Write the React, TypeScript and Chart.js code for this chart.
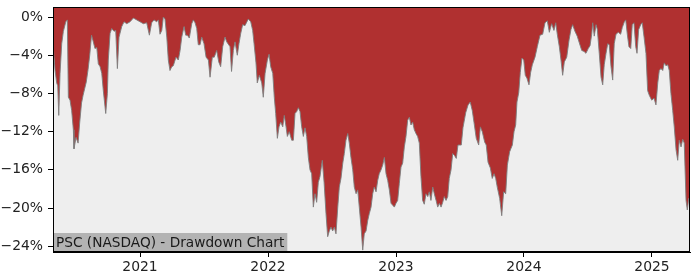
import React, { useEffect, useRef } from "react";
import { Chart, registerables } from "chart.js";

Chart.register(...registerables);

// Dates as fractional years
const dates: number[] = [
  2020.324, 2020.336, 2020.349, 2020.357, 2020.365, 2020.375, 2020.388, 2020.401, 2020.420, 2020.432,
  2020.440, 2020.453, 2020.466, 2020.479, 2020.484, 2020.500, 2020.516, 2020.529, 2020.543, 2020.555,
  2020.580, 2020.594, 2020.607, 2020.621, 2020.633, 2020.648, 2020.662, 2020.674, 2020.688, 2020.701,
  2020.713, 2020.732, 2020.745, 2020.752, 2020.766, 2020.779, 2020.797, 2020.810, 2020.823, 2020.836,
  2020.857, 2020.875, 2020.896, 2020.922, 2020.948, 2020.974, 2021.000, 2021.026, 2021.052, 2021.073,
  2021.091, 2021.109, 2021.130, 2021.143, 2021.156, 2021.170, 2021.182, 2021.195, 2021.209, 2021.221,
  2021.234, 2021.248, 2021.260, 2021.281, 2021.299, 2021.313, 2021.326, 2021.344, 2021.357, 2021.370,
  2021.385, 2021.404, 2021.416, 2021.430, 2021.443, 2021.455, 2021.469, 2021.482, 2021.500, 2021.516,
  2021.534, 2021.547, 2021.565, 2021.580, 2021.599, 2021.615, 2021.630, 2021.646, 2021.664, 2021.677,
  2021.703, 2021.715, 2021.729, 2021.742, 2021.760, 2021.773, 2021.787, 2021.802, 2021.820, 2021.846,
  2021.865, 2021.880, 2021.891, 2021.906, 2021.916, 2021.932, 2021.951, 2021.963, 2021.977, 2021.995,
  2022.008, 2022.021, 2022.037, 2022.049, 2022.060, 2022.073, 2022.086, 2022.099, 2022.115, 2022.127,
  2022.141, 2022.151, 2022.166, 2022.185, 2022.198, 2022.211, 2022.224, 2022.237, 2022.250, 2022.263,
  2022.276, 2022.289, 2022.302, 2022.315, 2022.328, 2022.341, 2022.354, 2022.367, 2022.380, 2022.393,
  2022.406, 2022.424, 2022.438, 2022.453, 2022.466, 2022.479, 2022.492, 2022.505, 2022.518, 2022.531,
  2022.545, 2022.557, 2022.570, 2022.584, 2022.596, 2022.609, 2022.623, 2022.635, 2022.648, 2022.662,
  2022.674, 2022.688, 2022.701, 2022.713, 2022.727, 2022.740, 2022.752, 2022.766, 2022.779, 2022.791,
  2022.805, 2022.818, 2022.830, 2022.844, 2022.857, 2022.869, 2022.883, 2022.896, 2022.909, 2022.922,
  2022.935, 2022.948, 2022.961, 2022.974, 2022.987, 2023.000, 2023.013, 2023.026, 2023.039, 2023.052,
  2023.065, 2023.078, 2023.091, 2023.104, 2023.117, 2023.130, 2023.143, 2023.156, 2023.169, 2023.182,
  2023.195, 2023.208, 2023.221, 2023.234, 2023.248, 2023.260, 2023.273, 2023.287, 2023.299, 2023.313,
  2023.326, 2023.339, 2023.352, 2023.365, 2023.377, 2023.391, 2023.404, 2023.416, 2023.430, 2023.443,
  2023.457, 2023.471, 2023.484, 2023.510, 2023.523, 2023.545, 2023.563, 2023.580, 2023.596, 2023.609,
  2023.627, 2023.646, 2023.659, 2023.674, 2023.693, 2023.705, 2023.719, 2023.737, 2023.752, 2023.766,
  2023.779, 2023.791, 2023.810, 2023.826, 2023.841, 2023.857, 2023.870, 2023.888, 2023.909, 2023.922,
  2023.935, 2023.945, 2023.959, 2023.971, 2023.984, 2023.998, 2024.010, 2024.023, 2024.039, 2024.052,
  2024.065, 2024.086, 2024.104, 2024.125, 2024.146, 2024.164, 2024.182, 2024.198, 2024.216, 2024.234,
  2024.248, 2024.260, 2024.276, 2024.289, 2024.302, 2024.315, 2024.334, 2024.352, 2024.367, 2024.380,
  2024.398, 2024.416, 2024.432, 2024.451, 2024.469, 2024.484, 2024.502, 2024.516, 2024.529, 2024.537,
  2024.549, 2024.563, 2024.573, 2024.588, 2024.602, 2024.615, 2024.627, 2024.641, 2024.654, 2024.666,
  2024.680, 2024.693, 2024.705, 2024.719, 2024.737, 2024.755, 2024.768, 2024.784, 2024.795, 2024.807,
  2024.820, 2024.834, 2024.846, 2024.859, 2024.873, 2024.883, 2024.896, 2024.912, 2024.924, 2024.938,
  2024.953, 2024.966, 2024.979, 2024.998, 2025.016, 2025.031, 2025.045, 2025.057, 2025.070, 2025.084,
  2025.096, 2025.109, 2025.123, 2025.135, 2025.148, 2025.162, 2025.174, 2025.188, 2025.201, 2025.213,
  2025.227, 2025.240, 2025.252, 2025.266, 2025.276, 2025.287, 2025.297,
];

// Drawdown in percent
const drawdown: number[] = [
  -3.5, -5.6, -6.9, -7.2, -10.3, -5.9, -2.8, -1.5, -0.5, -0.3,
  -8.4, -8.7, -9.8, -11.8, -13.8, -12.6, -13.2, -11.0, -9.0, -8.2,
  -6.8, -5.5, -4.0, -1.9, -2.5, -3.3, -3.2, -4.9, -5.2, -5.9,
  -7.7, -10.1, -8.0, -4.5, -1.7, -1.2, -1.5, -1.4, -5.4, -2.1,
  -1.0, -0.5, -0.7, -0.5, -0.1, -0.3, -0.5, -0.7, -0.6, -1.9,
  -0.6, -0.3, -0.5, -0.3, -1.8, -1.4, 0.0, -0.2, -2.1, -4.5,
  -5.6, -5.2, -5.1, -4.2, -4.5, -3.5, -2.1, -1.0, -1.9, -1.9,
  -2.2, -0.7, -0.3, -0.6, -1.2, -2.9, -2.9, -2.1, -2.8, -4.2,
  -4.5, -6.3, -4.2, -4.2, -3.5, -4.7, -5.2, -3.1, -2.1, -2.6,
  -3.1, -5.7, -3.5, -2.6, -4.0, -2.8, -1.7, -0.8, -0.9, -0.2,
  -0.5, -1.4, -2.8, -4.8, -6.9, -6.1, -6.9, -8.4, -5.9, -4.5,
  -3.9, -5.2, -5.9, -8.4, -10.1, -12.7, -11.5, -11.0, -11.5, -10.3,
  -11.5, -12.5, -12.0, -12.9, -12.9, -10.1, -9.9, -9.5, -9.9, -11.5,
  -12.5, -11.6, -12.5, -14.7, -16.0, -16.4, -19.9, -18.5, -19.4, -17.3,
  -16.7, -15.0, -17.3, -20.6, -23.0, -22.4, -22.0, -22.4, -22.0, -22.7,
  -19.9, -17.8, -16.9, -15.3, -14.3, -12.9, -12.2, -13.2, -14.7, -16.0,
  -17.8, -18.5, -18.1, -19.9, -22.0, -24.4, -22.7, -22.4, -21.3, -20.6,
  -19.9, -18.5, -17.8, -18.3, -17.1, -16.4, -16.0, -15.5, -14.7, -16.4,
  -17.1, -18.1, -19.5, -19.7, -19.9, -19.5, -19.2, -17.4, -15.7, -15.3,
  -13.6, -12.5, -10.8, -10.5, -11.3, -11.0, -11.8, -12.2, -12.5, -13.2,
  -16.7, -19.2, -19.6, -18.5, -18.8, -18.3, -19.2, -17.8, -18.5, -19.2,
  -19.9, -19.5, -19.9, -19.4, -18.8, -19.2, -18.8, -16.9, -16.0, -14.3,
  -14.5, -14.8, -13.4, -13.4, -11.6, -10.0, -9.2, -8.9, -9.8, -11.0,
  -12.7, -13.4, -11.5, -12.0, -13.1, -13.4, -15.2, -15.8, -16.9, -16.4,
  -16.9, -17.8, -19.0, -20.8, -18.3, -18.5, -15.5, -14.1, -13.4, -12.0,
  -11.3, -8.9, -7.9, -5.8, -4.3, -4.5, -6.1, -6.4, -7.1, -5.8,
  -5.0, -4.2, -3.1, -1.9, -1.8, -0.6, -0.4, -1.6, -0.7, -1.4,
  -0.6, -1.8, -3.1, -4.5, -6.1, -4.7, -4.2, -2.4, -1.3, -0.8,
  -1.5, -2.0, -2.7, -3.5, -3.6, -3.8, -3.3, -3.0, -1.8, -0.6,
  -2.0, -0.8, -1.3, -3.8, -6.3, -7.1, -5.0, -3.8, -2.8, -2.9,
  -5.2, -6.6, -2.8, -1.8, -1.6, -1.8, -1.1, -0.5, -0.3, -1.8,
  -3.1, -3.3, -0.8, -0.6, -3.1, -3.8, -1.3, -0.8, -0.6, -2.1,
  -3.8, -7.7, -8.2, -8.7, -8.5, -9.2, -6.9, -5.6, -5.4, -5.6,
  -4.8, -5.1, -5.0, -5.6, -8.0, -9.8, -11.5, -13.9, -15.0, -12.9,
  -13.6, -12.8, -13.2, -19.2, -20.2, -19.0, -18.9,
];

const xTicks: number[] = [2021, 2022, 2023, 2024, 2025];
const yTicks: number[] = [-24, -20, -16, -12, -8, -4, 0];
const labelText = "PSC (NASDAQ) - Drawdown Chart";

const FONT = "DejaVu Sans";

export default function App() {
  const ref = useRef<HTMLCanvasElement | null>(null);

  useEffect(() => {
    const canvas = ref.current;
    if (!canvas) return;

    const bgPlugin = {
      id: "bgPlugin",
      beforeDatasetsDraw(chart: any) {
        const { ctx, chartArea } = chart;
        ctx.save();
        ctx.fillStyle = "#eeeeee";
        ctx.fillRect(chartArea.left, chartArea.top, chartArea.right - chartArea.left, chartArea.bottom - chartArea.top);
        ctx.restore();
      },
      afterDraw(chart: any) {
        const { ctx, chartArea } = chart;
        ctx.save();
        ctx.font = `13.7px "${FONT}"`;
        const w = ctx.measureText(labelText).width;
        const h = 19;
        ctx.fillStyle = "#b3b3b3";
        ctx.fillRect(chartArea.left, chartArea.bottom - h, w + 6, h);
        ctx.fillStyle = "#1a1a1a";
        ctx.textBaseline = "middle";
        ctx.fillText(labelText, chartArea.left + 3, chartArea.bottom - h / 2 + 0.5);
        ctx.strokeStyle = "#000";
        ctx.lineWidth = 1;
        ctx.strokeRect(
          Math.round(chartArea.left) + 0.5,
          Math.round(chartArea.top) + 0.5,
          Math.round(chartArea.right - chartArea.left) - 1,
          Math.round(chartArea.bottom - chartArea.top) - 1
        );
        ctx.restore();
      },
    };

    const chart = new Chart(canvas, {
      type: "line",
      data: {
        datasets: [
          {
            data: dates.map((d, i) => ({ x: d, y: drawdown[i] })),
            fill: "end",
            backgroundColor: "#b03030",
            borderColor: "rgba(125,125,125,0.9)",
            borderWidth: 1,
            pointRadius: 0,
            tension: 0,
          },
        ],
      },
      options: {
        animation: false,
        responsive: false,
        maintainAspectRatio: false,
        events: [],
        layout: { padding: { top: 7, right: 10, left: 0, bottom: 0 } },
        plugins: { legend: { display: false }, tooltip: { enabled: false } },
        scales: {
          x: {
            type: "linear",
            min: 2020.32,
            max: 2025.297,
            afterBuildTicks(scale: any) {
              scale.ticks = xTicks.map((v) => ({ value: v }));
            },
            afterFit(scale: any) {
              scale.height = 28;
              scale.paddingLeft = 0;
              scale.paddingRight = 0;
            },
            ticks: {
              color: "#222",
              font: { family: FONT, size: 13.9 },
              padding: 2,
              maxRotation: 0,
              autoSkip: false,
              callback: (v: any) => String(v),
            },
            grid: { drawOnChartArea: false, drawTicks: true, tickLength: 5, color: "#000" },
            border: { display: true, color: "#000" },
          },
          y: {
            type: "linear",
            min: -24.6,
            max: 1.05,
            afterBuildTicks(scale: any) {
              scale.ticks = yTicks.map((v) => ({ value: v }));
            },
            afterFit(scale: any) {
              scale.width = 53;
              scale.paddingTop = 0;
              scale.paddingBottom = 0;
            },
            ticks: {
              color: "#222",
              font: { family: FONT, size: 13.9 },
              padding: 5,
              autoSkip: false,
              callback: (v: any) => (v < 0 ? "\u2212" + Math.abs(v) + "%" : v + "%"),
            },
            grid: { drawOnChartArea: false, drawTicks: true, tickLength: 5, color: "#000" },
            border: { display: true, color: "#000" },
          },
        },
      },
      plugins: [bgPlugin],
    });

    return () => chart.destroy();
  }, []);

  return (
    <div style={{ position: "fixed", left: 0, top: 0, width: 700, height: 280, background: "#fff" }}>
      <canvas ref={ref} width={700} height={280} style={{ width: 700, height: 280, display: "block" }} />
    </div>
  );
}
